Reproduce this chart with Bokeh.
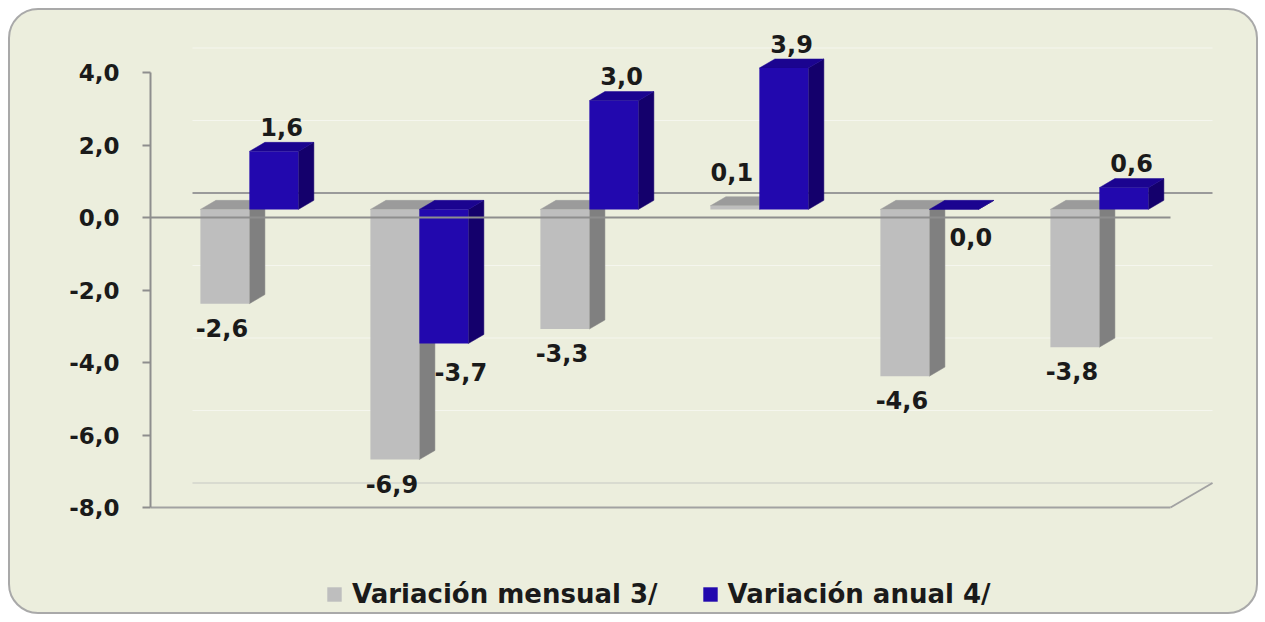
from bokeh.plotting import figure
from bokeh.models import Range1d, FixedTicker, ColumnDataSource, Legend, LegendItem
from bokeh.embed import file_html
from bokeh.resources import INLINE
from bokeh.core.properties import value

# ---------------- data ----------------
groups = ["1", "2", "3", "4", "5", "6"]
mensual = [-2.6, -6.9, -3.3, 0.1, -4.6, -3.8]
anual = [1.6, -3.7, 3.0, 3.9, 0.0, 0.6]
series_names = ["Variación mensual 3/", "Variación anual 4/"]
y_ticks = [-8, -6, -4, -2, 0, 2, 4]
y_tick_labels = ["-8,0", "-6,0", "-4,0", "-2,0", "0,0", "2,0", "4,0"]

# ---------------- geometry / style ----------------
PXX = 170.0          # px per category on the front plane
PXY = 36.25          # px per y unit
DX = 42.0 / PXX      # full depth, x component (data units)
DY = 24.5 / PXY      # full depth, y component (data units)
D0, D1 = 0.33, 0.70  # bar depth span
BW = 0.288           # bar width (category units)
N = len(groups)

BG = "#ECEEDD"
FONT = "DejaVu Sans"
GRAY = dict(front="#BEBEBE", side="#808080", top="#9B9B9B")
BLUE = dict(front="#2208AE", side="#14006C", top="#1B0490")

p = figure(width=1250, height=606, output_backend="svg", toolbar_location=None,
           x_range=Range1d(0, 1080.0 / PXX), y_range=Range1d(-399.0 / PXY, 192.0 / PXY),
           x_axis_location=None, min_border_left=140, min_border_right=30,
           min_border_top=15, min_border_bottom=0,
           background_fill_color=BG, background_fill_alpha=0,
           border_fill_color=BG, border_fill_alpha=0, outline_line_color=None,
           styles={"border": "2px solid #A9A9A9", "border-radius": "30px", "overflow": "hidden",
                   "margin-left": "8px", "margin-top": "8px", "background-color": BG})
p.xgrid.visible = False
p.ygrid.visible = False

# y axis
ax = p.yaxis[0]
ax.ticker = FixedTicker(ticks=y_ticks)
ax.major_label_overrides = {t: l for t, l in zip(y_ticks, y_tick_labels)}
ax.bounds = (min(y_ticks), max(y_ticks))
ax.axis_line_color = "#8E8E8E"
ax.axis_line_width = 2
ax.major_tick_line_color = "#8E8E8E"
ax.major_tick_line_width = 2
ax.major_tick_in = 0
ax.major_tick_out = 8
ax.minor_tick_line_color = None
ax.major_label_standoff = 23
ax.major_label_text_font = FONT
ax.major_label_text_font_style = "bold"
ax.major_label_text_font_size = "23px"
ax.major_label_text_color = "#1A1A1A"

# back wall grid lines (faint) + back zero line + back floor
faint = [t for t in y_ticks if t not in (0, min(y_ticks))]
p.segment(x0=[DX] * len(faint), x1=[N + DX] * len(faint),
          y0=[t + DY for t in faint], y1=[t + DY for t in faint],
          line_color="#F5F6EE", line_width=1)
p.segment(x0=[DX], x1=[N + DX], y0=[0 + DY], y1=[0 + DY], line_color="#9A9A9A", line_width=2)
fl = min(y_ticks)
p.segment(x0=[DX], x1=[N + DX], y0=[fl + DY], y1=[fl + DY], line_color="#D3D4CB", line_width=1.5)


def build(vals, left):
    fr = dict(left=[], right=[], bottom=[], top=[])
    sx, sy, tx, ty = [], [], [], []
    for i, v in enumerate(vals):
        c = i + 0.5
        x0, x1 = (c - BW, c) if left else (c, c + BW)
        lo, hi = min(0.0, v), max(0.0, v)
        fr["left"].append(x0 + D0 * DX)
        fr["right"].append(x1 + D0 * DX)
        fr["bottom"].append(lo + D0 * DY)
        fr["top"].append(hi + D0 * DY)
        sx.append([x1 + D0 * DX, x1 + D1 * DX, x1 + D1 * DX, x1 + D0 * DX])
        sy.append([lo + D0 * DY, lo + D1 * DY, hi + D1 * DY, hi + D0 * DY])
        tx.append([x0 + D0 * DX, x1 + D0 * DX, x1 + D1 * DX, x0 + D1 * DX])
        ty.append([hi + D0 * DY, hi + D0 * DY, hi + D1 * DY, hi + D1 * DY])
    return fr, sx, sy, tx, ty


renderers = []
for vals, left, col in ((mensual, True, GRAY), (anual, False, BLUE)):
    fr, sx, sy, tx, ty = build(vals, left)
    p.patches(sx, sy, fill_color=col["side"], line_color=col["side"], line_width=0.5)
    p.patches(tx, ty, fill_color=col["top"], line_color=col["top"], line_width=0.5)
    r = p.quad(source=ColumnDataSource(fr), left="left", right="right", bottom="bottom", top="top",
               fill_color=col["front"], line_color=None)
    renderers.append(r)

# front zero line, front floor and its depth edge
p.segment(x0=[0], x1=[N], y0=[0], y1=[0], line_color="#8E8E8E", line_width=2)
p.segment(x0=[0, N], x1=[N, N + DX], y0=[fl, fl], y1=[fl, fl + DY], line_color="#A2A2A2", line_width=2)

# data labels
fmt = lambda v: f"{v:.1f}".replace(".", ",")
lx, ly, lt = [], [], []
for i, v in enumerate(mensual):
    c = i + 0.5
    x = c - BW / 2 + D0 * DX - 3 / PXX
    y = (v + D0 * DY + 34 / PXY) if v > 0 else (v + D0 * DY - 24 / PXY)
    lx.append(x); ly.append(y); lt.append(fmt(v))
for i, v in enumerate(anual):
    c = i + 0.5
    if v > 0:
        x = c + BW / 2 + 0.5 * (D0 + D1) * DX
        y = v + 0.5 * (D0 + D1) * DY + 20 / PXY
    else:
        x = c + BW / 2 + D0 * DX + 17 / PXX
        y = v + D0 * DY - 28 / PXY
    lx.append(x); ly.append(y); lt.append(fmt(v))
p.text(x=lx, y=ly, text=lt, text_align="center", text_baseline="middle",
       text_font=value(FONT), text_font_style="bold", text_font_size="24px", text_color="#1A1A1A")

legend = Legend(items=[LegendItem(label=series_names[0], renderers=[renderers[0]]),
                       LegendItem(label=series_names[1], renderers=[renderers[1]])],
                orientation="horizontal", location=(175, 7),
                glyph_width=18, glyph_height=18, label_standoff=9, spacing=43,
                padding=0, margin=0, border_line_color=None, background_fill_alpha=0,
                label_text_font=FONT, label_text_font_style="bold", label_text_font_size="26px",
                label_text_color="#1A1A1A")
p.add_layout(legend, "center")

open("out.html", "w").write(file_html(p, INLINE))
